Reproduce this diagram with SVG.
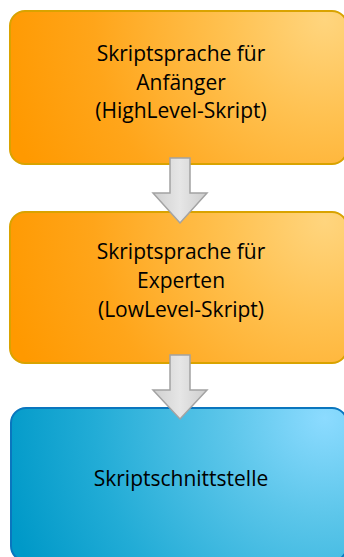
<svg xmlns="http://www.w3.org/2000/svg" width="344" height="557" viewBox="0 0 344 557">
  <defs>
    <radialGradient id="gradOrange" gradientUnits="userSpaceOnUse" cx="325" cy="20" r="330" fx="325" fy="20">
      <stop offset="0" stop-color="#ffd57e"/>
      <stop offset="0.3" stop-color="#ffc150"/>
      <stop offset="0.7" stop-color="#ffa51a"/>
      <stop offset="1" stop-color="#ff9900"/>
    </radialGradient>
    <radialGradient id="gradOrange2" gradientUnits="userSpaceOnUse" cx="325" cy="221" r="330" fx="325" fy="221">
      <stop offset="0" stop-color="#ffd57e"/>
      <stop offset="0.3" stop-color="#ffc150"/>
      <stop offset="0.7" stop-color="#ffa51a"/>
      <stop offset="1" stop-color="#ff9900"/>
    </radialGradient>
    <radialGradient id="gradBlue" gradientUnits="userSpaceOnUse" cx="325" cy="418" r="330" fx="325" fy="418">
      <stop offset="0" stop-color="#8cdbff"/>
      <stop offset="0.3" stop-color="#5cc6ea"/>
      <stop offset="0.7" stop-color="#22acd6"/>
      <stop offset="1" stop-color="#0099c8"/>
    </radialGradient>
    <linearGradient id="gradArrow" x1="0" y1="0" x2="1" y2="0">
      <stop offset="0" stop-color="#cfcfcf"/>
      <stop offset="0.5" stop-color="#e6e6e6"/>
      <stop offset="1" stop-color="#cdcdcd"/>
    </linearGradient>
  </defs>
  <style>
    .orange { stroke: #d9a300; stroke-width: 2; }
    .blue { stroke: #0a76be; stroke-width: 2; }
    .label { font-family: "Open Sans", "Noto Sans", sans-serif; font-size: 21px; fill: #000000; text-anchor: middle; }
    .arrow { fill: url(#gradArrow); stroke: #a3a3a3; stroke-width: 1.5; stroke-linejoin: miter; }
  </style>

  <g id="node-anfaenger">
    <rect class="orange" x="10" y="11" width="337" height="153" rx="15" ry="15" fill="url(#gradOrange)"/>
    <text class="label" x="181" y="61">Skriptsprache für</text>
    <text class="label" x="181" y="90">Anfänger</text>
    <text class="label" x="181" y="118">(HighLevel-Skript)</text>
  </g>

  <g id="node-experten">
    <rect class="orange" x="10" y="212" width="337" height="151" rx="15" ry="15" fill="url(#gradOrange2)"/>
    <text class="label" x="181" y="259">Skriptsprache für</text>
    <text class="label" x="181" y="288">Experten</text>
    <text class="label" x="181" y="317">(LowLevel-Skript)</text>
  </g>

  <g id="node-schnittstelle">
    <rect class="blue" x="11" y="408" width="336" height="153" rx="15" ry="15" fill="url(#gradBlue)"/>
    <text class="label" x="181" y="486">Skriptschnittstelle</text>
  </g>

  <g id="connectors">
    <polygon class="arrow" points="170,158 190,158 190,193 207,193 180,223 153,193 170,193"/>
    <polygon class="arrow" points="170,355 190,355 190,390 207,390 180,419 153,390 170,390"/>
  </g>
</svg>
